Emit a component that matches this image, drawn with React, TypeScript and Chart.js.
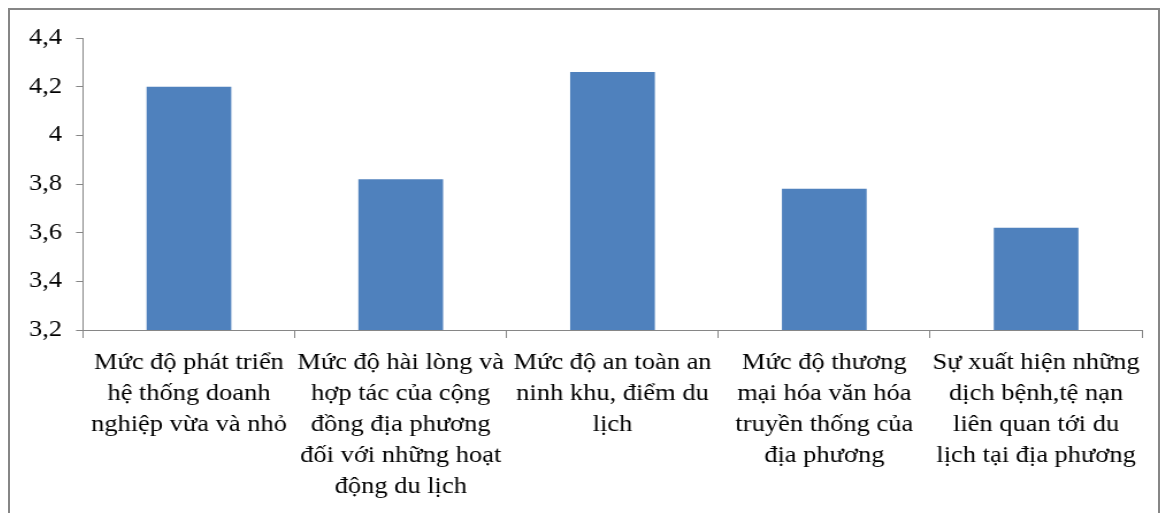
import React, { useEffect, useRef } from "react";
import { Chart, registerables } from "chart.js";

Chart.register(...registerables);

const categories: string[][] = [
  ["Mức độ phát triển", "hệ thống doanh", "nghiệp vừa và nhỏ"],
  ["Mức độ hài lòng và", "hợp tác của cộng", "đồng địa phương", "đối với những hoạt", "động du lịch"],
  ["Mức độ an toàn an", "ninh khu, điểm du", "lịch"],
  ["Mức độ thương", "mại hóa văn hóa", "truyền thống của", "địa phương"],
  ["Sự xuất hiện những", "dịch bệnh,tệ nạn", "liên quan tới du", "lịch tại địa phương"],
];

const values: number[] = [4.2, 3.82, 4.26, 3.78, 3.62];

const yMin = 3.2;
const yMax = 4.4;
const yStep = 0.2;

const FONT = "'Liberation Serif', 'Times New Roman', serif";
const AXIS_COLOR = "#868686";

// the reference picture is slightly stretched horizontally
const SX = 1.15;
const BOX_W = 1148;
const BOX_H = 503;
const CW = Math.round(BOX_W / SX);

export default function App() {
  const ref = useRef<HTMLCanvasElement | null>(null);

  useEffect(() => {
    if (!ref.current) return;
    const chart = new Chart(ref.current, {
      type: "bar",
      data: {
        labels: categories,
        datasets: [
          {
            data: values,
            backgroundColor: "#4F81BD",
            borderWidth: 0,
            categoryPercentage: 1,
            barPercentage: 0.4,
          },
        ],
      },
      options: {
        animation: false,
        responsive: false,
        maintainAspectRatio: false,
        layout: { padding: { left: 0, right: 16 / SX, top: 28, bottom: 0 } },
        plugins: {
          legend: { display: false },
          tooltip: { enabled: false },
        },
        scales: {
          x: {
            grid: {
              display: true,
              drawOnChartArea: false,
              drawTicks: true,
              tickLength: 8,
              color: AXIS_COLOR,
              offset: true,
            },
            border: { display: true, color: AXIS_COLOR, width: 1 },
            ticks: {
              color: "#000",
              font: { family: FONT, size: 23, lineHeight: 1.35 },
              padding: 9,
              maxRotation: 0,
              minRotation: 0,
              autoSkip: false,
            },
            afterFit: (scale: any) => {
              scale.height = 183;
            },
          },
          y: {
            min: yMin,
            max: yMax,
            grid: {
              display: true,
              drawOnChartArea: false,
              drawTicks: true,
              tickLength: 7 / SX,
              color: AXIS_COLOR,
            },
            border: { display: true, color: AXIS_COLOR, width: 1 },
            ticks: {
              stepSize: yStep,
              color: "#000",
              font: { family: FONT, size: 23 },
              padding: 14 / SX,
              callback: (v: any) =>
                String(Number(Number(v).toFixed(1))).replace(".", ","),
            },
            afterFit: (scale: any) => {
              scale.width = 73 / SX;
            },
          },
        },
      },
    });
    return () => chart.destroy();
  }, []);

  return (
    <div
      style={{
        width: BOX_W,
        height: 520,
        border: `2px solid ${AXIS_COLOR}`,
        background: "#fff",
      }}
    >
      <canvas
        ref={ref}
        width={CW}
        height={BOX_H}
        style={{ display: "block", width: BOX_W, height: BOX_H }}
      />
    </div>
  );
}
